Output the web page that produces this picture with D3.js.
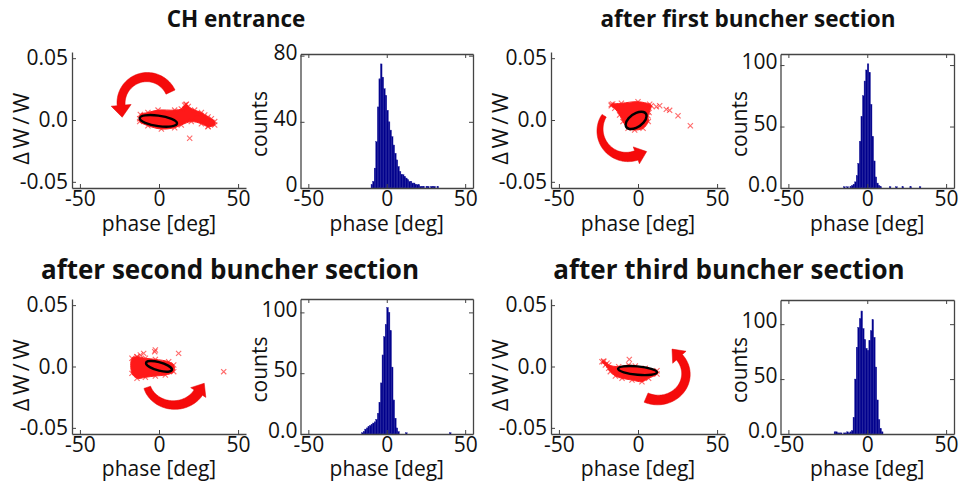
<!DOCTYPE html>
<html><head><meta charset="utf-8">
<script src="https://cdn.jsdelivr.net/npm/d3@7"></script>
<style>
body{margin:0;background:#fff}
svg{display:block}
text{font-family:"Open Sans",sans-serif;fill:#111}
</style>
</head><body>
<svg id="c" width="960" height="483"></svg>
<script>
// ---------------- data ----------------
const titles = ["CH entrance", "after first buncher section", "after second buncher section", "after third buncher section"];

const scatterXDomain = [-55, 55];
const scatterYDomain = [-0.055, 0.055];
const scatterXTicks = [-50, 0, 50];
const scatterXTickLabels = ["-50", "0", "50"];
const scatterYTicks = [-0.05, 0, 0.05];
const scatterYTickLabels = ["-0.05", "0.0", "0.05"];

const histXDomain = [-55, 55];
const histXTicks = [-50, 0, 50];
const histXTickLabels = ["-50", "0", "50"];
const histYMax = [81, 109, 111, 122];
const histYTicks = [[0, 40, 80], [0, 50, 100], [0, 50, 100], [0, 50, 100]];
const histYTickLabels = [["0", "40", "80"], ["0.0", "50", "100"], ["0.0", "50", "100"], ["0.0", "50", "100"]];

// histogram bins (left edge in deg, width 1 deg) and counts
const hist1Bins   = [-10, -9, -8, -7, -6, -5, -4, -3, -2, -1, 0, 1, 2, 3, 4, 5, 6, 7, 8, 9, 10, 11, 12, 13, 14, 15, 16, 17, 18, 19, 20, 21, 22, 23, 25, 26, 28, 29, 30, 32];
const hist1Counts = [2, 4, 12, 28, 49, 66, 75, 67, 60, 56, 47, 40, 35, 31, 26, 21, 17, 13, 10, 8, 8, 7, 6, 5, 4, 4, 3, 3, 2, 2, 2, 1, 1, 1, 1, 1, 1, 1, 1, 1];
const hist2Bins   = [-15, -13, -11, -10, -9, -8, -7, -6, -5, -4, -3, -2, -1, 0, 1, 2, 3, 4, 5, 6, 7, 8, 14, 18, 22, 27, 33];
const hist2Counts = [1, 1, 1, 2, 3, 5, 10, 20, 38, 58, 75, 87, 96, 101, 94, 68, 42, 22, 9, 4, 2, 1, 1, 1, 1, 1, 1];
const hist3Bins   = [-16, -15, -14, -13, -12, -11, -10, -9, -8, -7, -6, -5, -4, -3, -2, -1, 0, 1, 2, 3, 4, 5, 6, 7, 12, 40];
const hist3Counts = [1, 2, 4, 5, 6, 7, 8, 9, 10, 12, 17, 26, 42, 65, 80, 90, 104, 100, 85, 55, 28, 13, 5, 2, 1, 1];
const hist4Bins   = [-21, -20, -19, -18, -17, -15, -14, -13, -12, -11, -10, -9, -8, -7, -6, -5, -4, -3, -2, -1, 0, 1, 2, 3, 4, 5, 6, 7, 8, 9];
const hist4Counts = [2, 2, 1, 1, 1, 1, 1, 2, 1, 2, 3, 15, 50, 79, 97, 105, 112, 96, 86, 78, 76, 85, 94, 104, 88, 61, 31, 13, 5, 2];

// dense particle cloud outlines [phase deg, dW/W]
const cloud1 = [[-12.2, 0.001], [-11.8, 0.0045], [-7, 0.006], [-0.6, 0.008], [9.9, 0.008], [14.1, 0.009], [16.2, 0.012], [17.3, 0.0127], [18.5, 0.011], [22.5, 0.008], [26.8, 0.006], [28.9, 0.004], [31, 0.0025], [33.1, 0.001], [35.2, -0.0013], [35.2, -0.004], [31, -0.0054], [26.8, -0.003], [20.4, -0.0013], [14.1, -0.004], [9.9, -0.0062], [1.5, -0.0073], [-7, -0.0046], [-12.2, -0.0013]];
const cloud2 = [[-16.9, 0.0125], [-10.5, 0.0135], [0, 0.0148], [7.4, 0.0127], [8.4, 0.0115], [7, 0.006], [6.3, 0.0035], [6.5, -0.0013], [3.2, -0.0067], [-2.1, -0.0081], [-6.3, -0.0067], [-9.5, -0.0013], [-11.6, 0.004], [-14.7, 0.0094], [-16.9, 0.0115]];
const cloud3 = [[-17.1, 0.0067], [-13.9, 0.008], [-8.6, 0.0067], [-2.3, 0.0058], [6.1, 0.0039], [9.3, 0.0012], [9.3, -0.0042], [4.0, -0.0069], [-2.3, -0.0077], [-8.6, -0.0088], [-13.9, -0.0096], [-17.1, -0.0056]];
const cloud4 = [[-21.7, 0.0045], [-18.5, 0.0012], [-12.2, -0.0001], [-5.9, 0.0012], [-1.7, 0.0004], [4.6, -0.0015], [12.0, -0.0034], [12.0, -0.0061], [6.7, -0.0096], [2.5, -0.0124], [-3.8, -0.011], [-10.1, -0.0096], [-14.3, -0.0077], [-17.5, -0.0042], [-20.6, 0.0012], [-22.8, 0.0039]];

// isolated particles
const outliers1 = [[19.4, -0.0148], [31, -0.005], [33.5, -0.002], [17, 0.0125], [24, 0.005], [28, 0.002]];
const outliers2 = [[11.6, 0.0108], [13.7, 0.0115], [17.9, 0.0086], [20, 0.0078], [25.3, 0.0035], [33.1, -0.0046], [-16, 0.013]];
const outliers3 = [[-13.9, 0.008], [-11.8, 0.0094], [-9.7, 0.0107], [-2.3, 0.0134], [-2.7, 0.0121], [12.4, 0.0107], [40.9, -0.0042]];
const outliers4 = [[-5.5, 0.0058], [-21.7, 0.0039], [-19.6, 0.0026], [-18.5, -0.0015]];

// rms ellipses: [centre phase, centre dW/W, half-width phase, half-height dW/W, correlation]
const ellipse1 = [-0.4, -0.0007, 11.8, 0.0047, -0.43];
const ellipse2 = [-1.2, -0.0003, 6.6, 0.0070, 0.5];
const ellipse3 = [0.0, 0.0001, 8.2, 0.0044, -0.6];
const ellipse4 = [-0.3, -0.0033, 12.3, 0.0037, -0.38];

// rotation arrows: [centre phase, centre dW/W, radius phase, radius dW/W, start angle, end angle]
const arrow1 = [-7.6, 0.0137, 16.4, 0.021, 25, 185];
const arrow2 = [-6.9, -0.0081, 17.1, 0.0218, 148, 290];
const arrow3 = [9.5, -0.011, 17.7, 0.0204, 197, 330];
const arrow4 = [12.6, -0.0061, 17.7, 0.0212, 245, 400];

// ---------------- layout / style ----------------
const layout = {
  scatter: [{x0: 72, x1: 246, y0: 52, y1: 188}, {x0: 551, x1: 725, y0: 52, y1: 188},
            {x0: 72, x1: 246, y0: 299, y1: 434}, {x0: 551, x1: 725, y0: 299, y1: 434}],
  hist: [{x0: 300.5, x1: 473, y0: 54, y1: 188}, {x0: 780.5, x1: 954, y0: 54, y1: 188},
         {x0: 300.5, x1: 473, y0: 299, y1: 434}, {x0: 780.5, x1: 954, y0: 300, y1: 434}],
  titles: [[236, 27], [748, 27], [230, 279], [729, 279]],
  titleSize: [22.5, 22.5, 26, 26],
  xlabelOffset: [43, 43, 42, 42]
};
const arrowStyle = [{w0: 10, w1: 8, hl: 12, hw: 10}, {w0: 5, w1: 10, hl: 11, hw: 9},
                    {w0: 7, w1: 10, hl: 11, hw: 9}, {w0: 10, w1: 8, hl: 11, hw: 9}];
const tickFont = 21, labelFont = 21;
const axisColor = "#444";

const histBins = [hist1Bins, hist2Bins, hist3Bins, hist4Bins];
const histCounts = [hist1Counts, hist2Counts, hist3Counts, hist4Counts];
const clouds = [cloud1, cloud2, cloud3, cloud4];
const outliers = [outliers1, outliers2, outliers3, outliers4];
const ellipses = [ellipse1, ellipse2, ellipse3, ellipse4];
const arrows = [arrow1, arrow2, arrow3, arrow4];

const svg = d3.select("#c");
const crossPath = "M-2.6,-2.6L2.6,2.6M-2.6,2.6L2.6,-2.6";

function styleAxis(g) {
  g.select(".domain").attr("stroke", axisColor).attr("stroke-width", 1.3);
  g.selectAll(".tick line").attr("stroke", axisColor).attr("stroke-width", 1);
  g.selectAll(".tick text").attr("font-size", tickFont).attr("fill", "#111").style("font-family", '"Open Sans",sans-serif');
}

function drawArrow(g, xs, ys, a, st) {
  const [cx, cy, rx, ry, a0, a1] = a;
  const pcx = xs(cx), pcy = ys(cy);
  const prx = xs(cx + rx) - pcx, pry = pcy - ys(cy + ry);
  const n = 60, outer = [], inner = [];
  let last = null, nrm = null;
  for (let i = 0; i <= n; i++) {
    const f = i / n;
    const t = (a0 + (a1 - a0) * f) * Math.PI / 180;
    const w = st.w0 + (st.w1 - st.w0) * f;
    const px = pcx + prx * Math.cos(t), py = pcy - pry * Math.sin(t);
    let nx = Math.cos(t) / prx, ny = -Math.sin(t) / pry;
    const l = Math.hypot(nx, ny); nx /= l; ny /= l;
    outer.push([px + nx * w / 2, py + ny * w / 2]);
    inner.push([px - nx * w / 2, py - ny * w / 2]);
    last = [px, py]; nrm = [nx, ny];
  }
  const te = a1 * Math.PI / 180, sgn = Math.sign(a1 - a0);
  let dx = -prx * Math.sin(te) * sgn, dy = -pry * Math.cos(te) * sgn;
  const dl = Math.hypot(dx, dy); dx /= dl; dy /= dl;
  const tip = [last[0] + dx * st.hl, last[1] + dy * st.hl];
  const hOut = [last[0] + nrm[0] * st.hw, last[1] + nrm[1] * st.hw];
  const hIn = [last[0] - nrm[0] * st.hw, last[1] - nrm[1] * st.hw];
  const pts = outer.concat([hOut, tip, hIn], inner.slice().reverse());
  g.append("path").attr("d", "M" + pts.map(p => p[0].toFixed(2) + "," + p[1].toFixed(2)).join("L") + "Z")
    .attr("fill", "#f50a0a").attr("stroke", "#e00000").attr("stroke-width", 0.5);
}

for (let k = 0; k < 4; k++) {
  // ---------- scatter ----------
  const L = layout.scatter[k];
  const xs = d3.scaleLinear().domain(scatterXDomain).range([L.x0, L.x1]);
  const ys = d3.scaleLinear().domain(scatterYDomain).range([L.y1, L.y0]);
  const g = svg.append("g");

  // cloud
  const cl = clouds[k];
  g.append("path")
    .attr("d", d3.line().x(d => xs(d[0])).y(d => ys(d[1])).curve(d3.curveCatmullRomClosed.alpha(0.5))(cl))
    .attr("fill", "#ff0d0d").attr("fill-opacity", 0.95).attr("stroke", "#ff2020").attr("stroke-width", 1);
  g.selectAll("path.cx").data(cl.concat(outliers[k])).join("path").attr("class", "cx")
    .attr("d", crossPath).attr("transform", d => `translate(${xs(d[0])},${ys(d[1])})`)
    .attr("stroke", "#ff1a1a").attr("stroke-opacity", 0.65).attr("stroke-width", 1.1).attr("fill", "none");

  // rms ellipse
  const [ecx, ecy, esx, esy, rho] = ellipses[k];
  const eg = g.append("g").attr("transform", `translate(${xs(ecx)},${ys(ecy)})`);
  const pax = xs(ecx + esx) - xs(ecx), pay = ys(ecy) - ys(ecy + esy);
  const s = Math.sqrt(1 - rho * rho);
  eg.append("g").attr("transform", `matrix(${pax},${-pay * rho},0,${-pay * s},0,0)`)
    .append("circle").attr("r", 1).attr("fill", "none").attr("stroke", "#000")
    .attr("stroke-width", 2.4).attr("vector-effect", "non-scaling-stroke");

  // arrow
  drawArrow(g, xs, ys, arrows[k], arrowStyle[k]);

  // axes
  const ax = g.append("g").attr("transform", `translate(0,${L.y1})`)
    .call(d3.axisBottom(xs).tickValues(scatterXTicks).tickFormat((d, i) => scatterXTickLabels[i]).tickSizeInner(-4).tickSizeOuter(0).tickPadding(5));
  styleAxis(ax);
  ax.selectAll(".tick text").attr("dy", "0.71em").attr("y", 3);
  const ay = g.append("g").attr("transform", `translate(${L.x0},0)`)
    .call(d3.axisLeft(ys).tickValues(scatterYTicks).tickFormat((d, i) => scatterYTickLabels[i]).tickSizeInner(-4).tickSizeOuter(0).tickPadding(4));
  styleAxis(ay);

  g.append("text").attr("transform", `translate(${L.x0 - 43},${(L.y0 + L.y1) / 2 + 7}) rotate(-90)`)
    .attr("text-anchor", "middle").attr("font-size", 22).attr("letter-spacing", "3.5px").text("ΔW/W");
  g.append("text").attr("x", (L.x0 + L.x1) / 2).attr("y", L.y1 + layout.xlabelOffset[k]).attr("text-anchor", "middle")
    .attr("font-size", labelFont).text("phase [deg]");

  // ---------- histogram ----------
  const H = layout.hist[k];
  const hx = d3.scaleLinear().domain(histXDomain).range([H.x0, H.x1]);
  const hy = d3.scaleLinear().domain([0, histYMax[k]]).range([H.y1, H.y0]);
  const hg = svg.append("g");
  const bins = histBins[k].map((b, i) => ({x: b, c: histCounts[k][i]}));
  hg.selectAll("rect").data(bins).join("rect")
    .attr("x", d => hx(d.x)).attr("width", d => hx(d.x + 1) - hx(d.x))
    .attr("y", d => hy(d.c)).attr("height", d => hy(0) - hy(d.c))
    .attr("fill", "#00008c").attr("stroke", "#1a1a9a").attr("stroke-width", 0.4);

  const hb = hg.append("g").attr("transform", `translate(0,${H.y1})`)
    .call(d3.axisBottom(hx).tickValues(histXTicks).tickFormat((d, i) => histXTickLabels[i]).tickSizeInner(-4).tickSizeOuter(0).tickPadding(5));
  styleAxis(hb);
  hb.selectAll(".tick text").attr("dy", "0.71em").attr("y", 3);
  const ht = hg.append("g").attr("transform", `translate(0,${H.y0})`)
    .call(d3.axisTop(hx).tickValues(histXTicks).tickFormat("").tickSizeInner(-4).tickSizeOuter(0));
  styleAxis(ht);
  const hl = hg.append("g").attr("transform", `translate(${H.x0},0)`)
    .call(d3.axisLeft(hy).tickValues(histYTicks[k]).tickFormat((d, i) => histYTickLabels[k][i]).tickSizeInner(-4).tickSizeOuter(0).tickPadding(3));
  styleAxis(hl);
  hl.selectAll(".tick text").attr("y", -3);
  const hr = hg.append("g").attr("transform", `translate(${H.x1},0)`)
    .call(d3.axisRight(hy).tickValues(histYTicks[k]).tickFormat("").tickSizeInner(-4).tickSizeOuter(0));
  styleAxis(hr);

  hg.append("text").attr("transform", `translate(${H.x0 - 34},${(H.y0 + H.y1) / 2 + 3}) rotate(-90)`)
    .attr("text-anchor", "middle").attr("font-size", labelFont).text("counts");
  hg.append("text").attr("x", (H.x0 + H.x1) / 2).attr("y", H.y1 + layout.xlabelOffset[k]).attr("text-anchor", "middle")
    .attr("font-size", labelFont).text("phase [deg]");

  // title
  svg.append("text").attr("x", layout.titles[k][0]).attr("y", layout.titles[k][1])
    .attr("text-anchor", "middle").attr("font-size", layout.titleSize[k]).attr("font-weight", "bold").text(titles[k]);
}
</script>
</body></html>
